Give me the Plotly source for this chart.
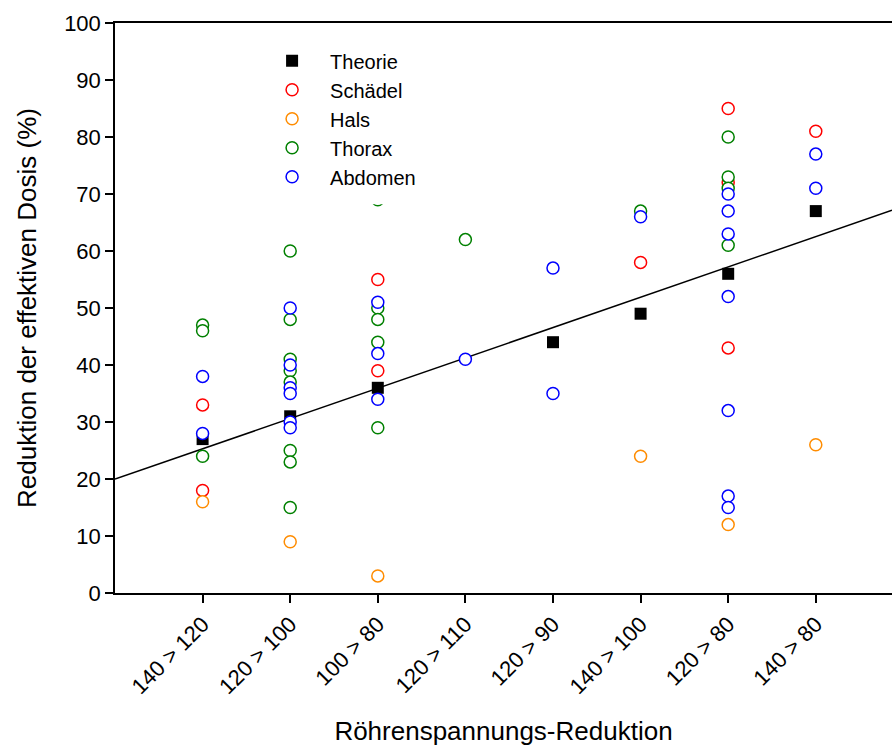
import numpy as np
import plotly.graph_objects as go

# Tube-voltage reduction steps (x categories)
categories = ["140 > 120", "120 > 100", "100 > 80", "120 > 110",
              "120 > 90", "140 > 100", "120 > 80", "140 > 80"]

# Theoretical dose reduction (%)
theorie_cat = ["140 > 120", "120 > 100", "100 > 80", "120 > 90",
               "140 > 100", "120 > 80", "140 > 80"]
theorie_val = [27, 31, 36, 44, 49, 56, 67]

# Measured reduction of effective dose (%) per body region
schaedel_cat = ["140 > 120", "140 > 120", "100 > 80", "100 > 80", "140 > 100",
                "120 > 80", "120 > 80", "120 > 80", "140 > 80"]
schaedel_val = [33, 18, 55, 39, 58, 85, 72, 43, 81]

hals_cat = ["140 > 120", "120 > 100", "100 > 80", "140 > 100", "120 > 80", "140 > 80"]
hals_val = [16, 9, 3, 24, 12, 26]

thorax_cat = ["140 > 120", "140 > 120", "140 > 120",
              "120 > 100", "120 > 100", "120 > 100", "120 > 100",
              "120 > 100", "120 > 100", "120 > 100", "120 > 100",
              "100 > 80", "100 > 80", "100 > 80", "100 > 80", "100 > 80",
              "120 > 110", "140 > 100",
              "120 > 80", "120 > 80", "120 > 80", "120 > 80"]
thorax_val = [47, 46, 24,
              60, 48, 41, 39, 37, 25, 23, 15,
              69, 50, 48, 44, 29,
              62, 67,
              80, 73, 71, 61]

abdomen_cat = ["140 > 120", "140 > 120",
               "120 > 100", "120 > 100", "120 > 100", "120 > 100", "120 > 100", "120 > 100",
               "100 > 80", "100 > 80", "100 > 80",
               "120 > 110", "120 > 90", "120 > 90", "140 > 100",
               "120 > 80", "120 > 80", "120 > 80", "120 > 80", "120 > 80", "120 > 80", "120 > 80",
               "140 > 80", "140 > 80"]
abdomen_val = [38, 28,
               50, 40, 36, 35, 30, 29,
               51, 42, 34,
               41, 57, 35, 66,
               70, 67, 63, 52, 32, 17, 15,
               77, 71]


def pos(cats):
    return [categories.index(c) for c in cats]


FONT = "Liberation Sans, Arial, sans-serif"
x_range = [-1.0, 7.87]

fig = go.Figure()

# Linear fit through the theoretical values
tx = np.array(pos(theorie_cat), dtype=float)
slope, intercept = np.polyfit(tx, np.array(theorie_val, dtype=float), 1)
fx = np.array(x_range)
fig.add_trace(go.Scatter(x=fx, y=slope * fx + intercept, mode="lines",
                         line=dict(color="black", width=1.5),
                         showlegend=False, hoverinfo="skip"))

fig.add_trace(go.Scatter(x=tx, y=theorie_val, mode="markers", name="Theorie",
                         marker=dict(symbol="square", size=12, color="black",
                                     line=dict(width=0))))

series = [
    ("Schädel", schaedel_cat, schaedel_val, "#ff0000"),
    ("Hals", hals_cat, hals_val, "#ff8c00"),
    ("Thorax", thorax_cat, thorax_val, "#008000"),
    ("Abdomen", abdomen_cat, abdomen_val, "#0000ff"),
]
for name, cats, vals, col in series:
    fig.add_trace(go.Scatter(x=pos(cats), y=vals, mode="markers", name=name,
                             marker=dict(symbol="circle", size=12, color="white",
                                         line=dict(color=col, width=1.5))))

# Opaque legend panel over the plot area
fig.add_shape(type="rect", xref="paper", yref="paper", layer="above",
              x0=0.206, x1=0.405, y0=0.682, y1=0.968,
              fillcolor="white", line=dict(width=0))

fig.update_layout(
    width=892, height=746,
    margin=dict(l=115, r=0, t=23, b=153),
    paper_bgcolor="white", plot_bgcolor="white",
    font=dict(family=FONT, size=21, color="black"),
    showlegend=True,
    legend=dict(x=0.179, y=0.968, xanchor="left", yanchor="top",
                bgcolor="rgba(255,255,255,0)", borderwidth=0, itemwidth=66,
                tracegroupgap=0, font=dict(size=20)),
    xaxis=dict(range=x_range, tickvals=list(range(len(categories))),
               ticktext=categories, tickangle=-45,
               showline=True, linecolor="black", linewidth=1.5, mirror=True,
               ticks="outside", ticklen=8, tickwidth=1.5, tickcolor="black",
               showgrid=False, zeroline=False,
               tickfont=dict(size=22),
               title=dict(text="Röhrenspannungs-Reduktion", font=dict(size=26),
                          standoff=28)),
    yaxis=dict(range=[0, 100], dtick=10,
               showline=True, linecolor="black", linewidth=1.5, mirror=False,
               ticks="outside", ticklen=8, tickwidth=1.5, tickcolor="black",
               showgrid=False, zeroline=False,
               tickfont=dict(size=22),
               title=dict(text="Reduktion der effektiven Dosis (%)",
                          font=dict(size=26), standoff=20)),
)

fig.write_html("out.html")
